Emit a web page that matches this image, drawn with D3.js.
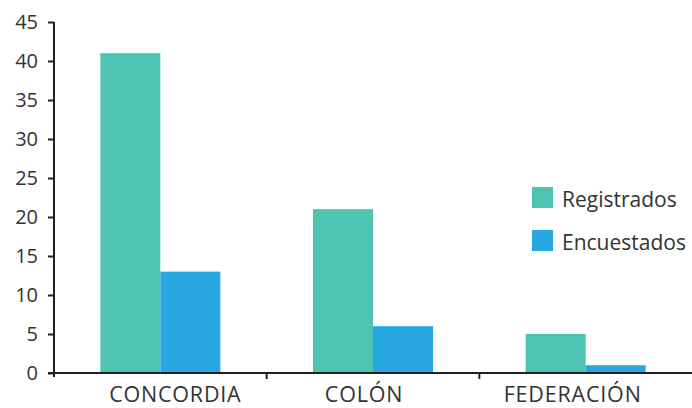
<!DOCTYPE html>
<html>
<head>
<meta charset="utf-8">
<script src="https://cdn.jsdelivr.net/npm/d3@7"></script>
<style>
  html, body { margin: 0; padding: 0; background: #fff; }
  svg { display: block; }
  text { font-family: "Open Sans", "Noto Sans", sans-serif; fill: #333; }
</style>
</head>
<body>
<svg id="chart" width="692" height="408"></svg>
<script>
// Departamentos y cantidades
const categories = ["CONCORDIA", "COLÓN", "FEDERACIÓN"];
const seriesNames = ["Registrados", "Encuestados"];
const registrados = [41, 21, 5];
const encuestados = [13, 6, 1];
const yTicks = [0, 5, 10, 15, 20, 25, 30, 35, 40, 45];
const colors = ["#4EC3B1", "#27A8E0"];

const values = [registrados, encuestados];
const rows = categories.map((c, i) => ({
  cat: c,
  vals: seriesNames.map((s, j) => ({ key: s, value: values[j][i], color: colors[j] }))
}));

const svg = d3.select("#chart");
const plotLeft = 54, plotRight = 692, plotTop = 22, plotBottom = 373;

const x0 = d3.scaleBand().domain(categories).range([plotLeft, plotRight]).padding(0);
const x1 = d3.scaleBand().domain(seriesNames).range([0, x0.bandwidth()])
  .paddingInner(0).paddingOuter(0.772);
const y = d3.scaleLinear().domain([0, 45]).range([plotBottom, plotTop]);

// Barras
const groups = svg.append("g").selectAll("g").data(rows).join("g")
  .attr("transform", d => `translate(${x0(d.cat)},0)`);
groups.selectAll("rect").data(d => d.vals).join("rect")
  .attr("x", d => x1(d.key))
  .attr("width", x1.bandwidth())
  .attr("y", d => y(d.value))
  .attr("height", d => y(0) - y(d.value))
  .attr("fill", d => d.color);

// Eje Y
const yAxis = svg.append("g").attr("transform", `translate(${plotLeft},0)`)
  .call(d3.axisLeft(y).tickValues(yTicks).tickSize(6).tickSizeOuter(0).tickPadding(10));
yAxis.select(".domain").attr("stroke", "#231f20").attr("stroke-width", 2)
  .attr("d", `M0,${plotTop}V${plotBottom + 4}`);
yAxis.selectAll(".tick line").attr("stroke", "#231f20").attr("stroke-width", 2);
yAxis.selectAll(".tick text").attr("font-size", 20).attr("fill", "#333")
  .attr("font-family", "'Open Sans', sans-serif");

// Eje X con marcas entre categorías
const xAxis = svg.append("g");
xAxis.append("line")
  .attr("x1", plotLeft - 6).attr("x2", plotRight)
  .attr("y1", y(0)).attr("y2", y(0))
  .attr("stroke", "#231f20").attr("stroke-width", 2);
xAxis.selectAll("line.sep").data(categories.slice(1)).join("line")
  .attr("class", "sep")
  .attr("x1", d => x0(d)).attr("x2", d => x0(d))
  .attr("y1", y(0)).attr("y2", y(0) + 6)
  .attr("stroke", "#231f20").attr("stroke-width", 2);
const labelShift = [15, -9, -13];
xAxis.selectAll("text").data(categories).join("text")
  .attr("x", (d, i) => x0(d) + x0.bandwidth() / 2 + labelShift[i])
  .attr("y", 402)
  .attr("text-anchor", "middle")
  .attr("font-size", 21.5)
  .attr("letter-spacing", 0.8)
  .text(d => d);

// Leyenda
const legend = svg.append("g").attr("transform", "translate(532,187)");
const li = legend.selectAll("g").data(seriesNames).join("g")
  .attr("transform", (d, i) => `translate(0,${i * 43})`);
li.append("rect").attr("width", 21).attr("height", 21)
  .attr("fill", (d, i) => colors[i]);
li.append("text").attr("x", 30).attr("y", 20)
  .attr("font-size", 21).text(d => d);
</script>
</body>
</html>
